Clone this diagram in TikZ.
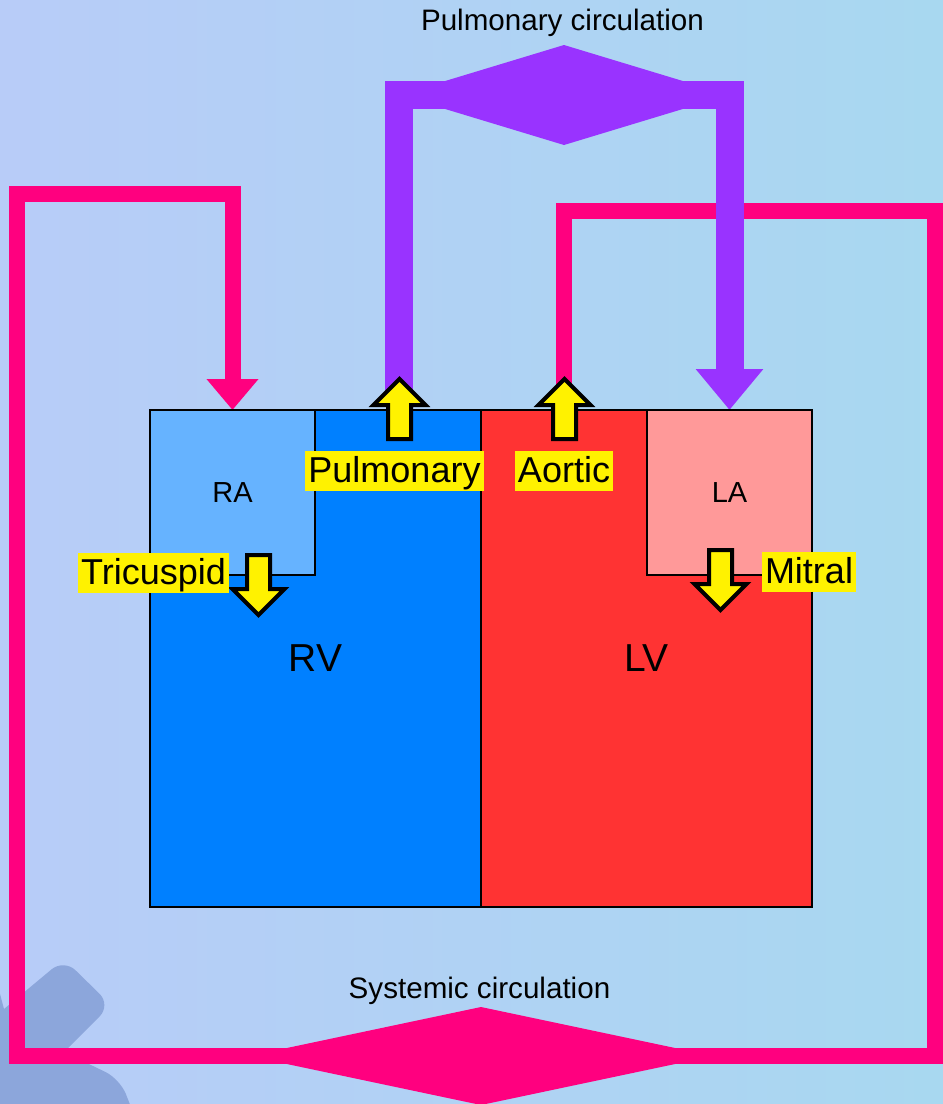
\documentclass[tikz,border=0pt]{standalone}
\usepackage{fontspec}
\setmainfont{Liberation Sans}
\usepackage{xcolor}
\usetikzlibrary{arrows.meta, positioning, shapes.geometric}

\definecolor{bgleft}{HTML}{B8CCF8}
\definecolor{bgright}{HTML}{A8D8F0}
\definecolor{wmark}{HTML}{8CA6DB}
\definecolor{sysPink}{HTML}{FF007F}
\definecolor{pulmPurple}{HTML}{9933FF}
\definecolor{rvBlue}{HTML}{0080FF}
\definecolor{raBlue}{HTML}{66B3FF}
\definecolor{lvRed}{HTML}{FF3333}
\definecolor{laRed}{HTML}{FF9999}

\begin{document}
\begin{tikzpicture}[
    x=0.5pt, y=-0.5pt,
    chamber/.style={rectangle, draw, line width=0.7pt, inner sep=0pt, outer sep=0pt},
    bigchamber/.style={chamber, minimum width=165.5pt, minimum height=248.5pt, font=\fontsize{19.5}{22}\selectfont},
    smallchamber/.style={chamber, minimum width=82.5pt, minimum height=82.5pt, font=\fontsize{14.5}{17}\selectfont},
    valve/.style={draw=black, fill=yellow, line width=2pt, line join=miter},
    valvelabel/.style={fill=yellow, inner xsep=1.7pt, inner ysep=0pt, text height=16.2pt, text depth=3.8pt, font=\fontsize{18}{21}\selectfont},
    circlabel/.style={anchor=base, inner sep=0pt, font=\fontsize{14.8}{17}\selectfont},
    sysflow/.style={draw=sysPink, line width=8pt, line join=miter, -{Triangle[length=15.5pt, width=25pt]}},
    pulmflow/.style={draw=pulmPurple, line width=14pt, line join=miter, -{Triangle[length=20.5pt, width=32.5pt]}},
    bulge/.style={diamond, inner sep=0pt, outer sep=0pt}
]
\fill[left color=bgleft, right color=bgright] (0,0) rectangle (943,1104);
\useasboundingbox (0,0) rectangle (943,1104);

% Background logo
\fill[wmark] (-5,975) -- (4,1009) [rounded corners=8pt] -- (64,959) -- (111,1005) [sharp corners] -- (64,1052) [rounded corners=8pt] -- (120,1079) -- (138,1125) [sharp corners] -- (-20,1125) -- cycle;

% Circulation loops
\coordinate (aorta) at (563.5,400);
\coordinate (pulmtrunk) at (399,400);
\draw[sysflow] (aorta) |- (935,211) |- (17,1056) |- (232.5,194) -- (232.5,410);
\draw[pulmflow] (pulmtrunk) |- (729.5,95) -- (729.5,410);
\node[bulge, fill=pulmPurple, minimum width=165pt, minimum height=50pt] (pulmbulge) at (564,95) {};
\node[bulge, fill=sysPink, minimum width=232pt, minimum height=49pt] (sysbulge) at (481,1056) {};
\node[circlabel] (pulmtext) at (562.5,30) {Pulmonary circulation};
\node[circlabel] (systext) at (479.5,998) {Systemic circulation};

% Heart chambers
\node[bigchamber, fill=rvBlue] (RV) at (315.5,658.5) {RV};
\node[bigchamber, fill=lvRed, right=0pt of RV] (LV) {LV};
\node[smallchamber, fill=raBlue, anchor=north west] (RA) at (RV.north west) {RA};
\node[smallchamber, fill=laRed, anchor=north east] (LA) at (LV.north east) {LA};

% Valves
\draw[valve] (388,439) -- ++(23,0) -- ++(0,-34) -- ++(14.5,0) -- ++(-26,-26) -- ++(-26,26) -- ++(14.5,0) -- cycle;
\draw[valve] (553,439) -- ++(23,0) -- ++(0,-34) -- ++(14.5,0) -- ++(-26,-26) -- ++(-26,26) -- ++(14.5,0) -- cycle;
\draw[valve] (247,555) -- ++(23,0) -- ++(0,34) -- ++(14.5,0) -- ++(-26,26) -- ++(-26,-26) -- ++(14.5,0) -- cycle;
\draw[valve] (709,550) -- ++(23,0) -- ++(0,34) -- ++(14.5,0) -- ++(-26,26) -- ++(-26,-26) -- ++(14.5,0) -- cycle;
\node[valvelabel] (pulmvalve) at (394.5,470.5) {Pulmonary};
\node[valvelabel] (aorticvalve) at (564,470.5) {Aortic};
\node[valvelabel] (tricvalve) at (153.5,572.5) {Tricuspid};
\node[valvelabel] (mitralvalve) at (809,571.5) {Mitral};
\end{tikzpicture}
\end{document}
